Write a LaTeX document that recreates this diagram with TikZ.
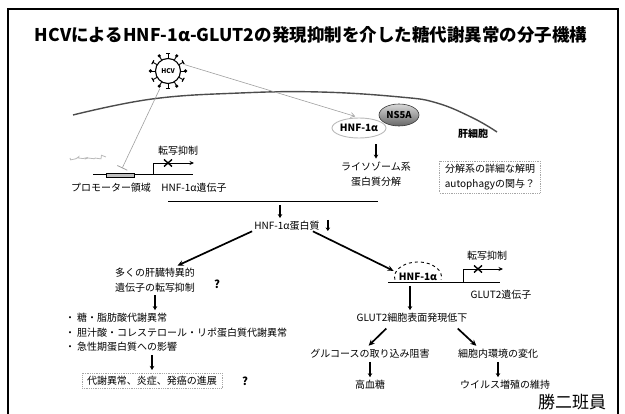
\documentclass[tikz,border=0pt]{standalone}
\usepackage{fontspec}
\setmainfont{Noto Sans CJK JP}
\usetikzlibrary{arrows.meta,shapes.geometric,calc,decorations.pathmorphing}
\begin{document}
\begin{tikzpicture}[x=1pt,y=-1pt,
  every node/.style={inner sep=0pt, font=\fontsize{10}{15}\selectfont},
  lbl/.style={align=center},
  bigarrow/.style={line width=1.7pt, -{Stealth[length=6pt,width=5.5pt]}, shorten <=1pt, shorten >=5pt},
  downarrow/.style={line width=1.5pt, -{Stealth[length=4pt,width=4.5pt]}, shorten <=3pt, shorten >=3pt},
  thinarrow/.style={line width=0.8pt, -{Stealth[length=4.5pt,width=4pt]}},
  dna/.style={line width=1pt},
  dotbox/.style={draw=gray!70, densely dotted, line width=0.8pt, inner xsep=5pt, inner ysep=3pt, align=center},
  greyline/.style={draw=gray!75, line width=0.6pt},
  boldlbl/.style={font=\fontsize{10}{12}\selectfont\bfseries}
]
\useasboundingbox (0,0) rectangle (625,414);

% page frame
\draw[line width=1.6pt] (8,416) -- (8,9) -- (618,9) -- (618,416);

\node[font=\fontsize{17.5}{20}\selectfont\bfseries] (title) at (311,35)
  {HCVによるHNF-1α-GLUT2の発現抑制を介した糖代謝異常の分子機構};

% virus particle
\node[circle, draw, line width=1.1pt, minimum size=25pt,
      font=\fontsize{6.5}{7}\selectfont\bfseries] (hcv) at (168,71) {HCV};
\foreach \a in {0,60,...,300} {
  \draw[line width=0.9pt] (hcv.center) ++(\a:12.5) -- ++(\a:4.5);
  \fill (hcv.center) ++(\a:17.5) circle (1.8);
}
\foreach \a in {30,90,...,330} {
  \draw[line width=0.9pt] (hcv.center) ++(\a:12.5) -- ++(\a:5);
  \draw[line width=1.1pt] (hcv.center) ++(\a:17.5) ++(\a+90:2.2) -- ++(\a-90:4.4);
}

% cell membrane
\draw[line width=1.4pt, black!70] plot[smooth, tension=0.7] coordinates
  {(73,115) (152,99) (240,93) (320,92) (400,97) (437,103) (473,118) (497,132)};

% HNF-1alpha gene with promoter
\draw[dna] (93,175) -- (193,175);
\node[draw, line width=0.5pt, fill=gray!50, minimum width=28pt, minimum height=4pt] (promoter) at (120,175) {};
\draw[thinarrow] (153,175) -- (153,163) -- (194,163);
\node (xl) at (168,163) {};
\draw[line width=1.4pt] (xl.center) ++(-4,-3.5) -- ++(8,7) (xl.center) ++(-4,3.5) -- ++(8,-7);
\node (trl) at (178,151) {転写抑制};
\node (promlbl) at (111,188) {プロモーター領域};
\node (hnfgene) at (194,188) {HNF-1α遺伝子};
\draw[gray!55, line width=0.8pt, decorate,
      decoration={random steps, segment length=2.5pt, amplitude=2pt}] (70,158) -- (106,157);

% inhibition of the promoter
\draw[greyline, -{Bar[width=11pt,line width=0.8pt]}, shorten <=5pt, shorten >=5pt]
  ([xshift=-6pt]hcv.south) -- (promoter.north);

% HNF-1alpha / NS5A complex
\node[ellipse, draw=gray!55, line width=0.9pt, minimum width=54pt, minimum height=20pt,
      boldlbl] (hnf) at (359,128) {HNF-1α};
\node[ellipse, draw=black!80, line width=0.6pt, top color=gray!30, bottom color=gray!80!black,
      minimum width=40pt, minimum height=22pt, font=\fontsize{9.5}{12}\selectfont\bfseries]
      (ns5a) at (399,115) {NS5A};
\draw[greyline, -{Straight Barb[length=4pt,width=5pt]}, shorten <=7pt, shorten >=4pt]
  (hcv.40) -- (hnf.north);

\node[boldlbl] (hep) at (473,134) {肝細胞};
\node[lbl] (lyso) at (376,174) {ライソゾーム系\\蛋白質分解};
\draw[downarrow, shorten <=6pt] (hnf.south -| lyso.north) -- (lyso.north);
\node[dotbox] (autobox) at (490,177) {分解系の詳細な解明\\autophagyの関与？};

% convergence onto HNF-1alpha protein
\coordinate (mL) at (168,202);
\coordinate (mR) at (378,202);
\coordinate (mM) at (280,202);
\draw[line width=1pt] (mL) -- (mR);
\node (prot) at (287,226) {HNF-1α蛋白質};
\draw[downarrow] (mM) -- (mM |- prot.north);
\draw[line width=1.4pt, -{Stealth[length=3.5pt,width=4.5pt]}]
  ([xshift=8pt,yshift=6pt]prot.east) -- ([xshift=8pt,yshift=-5pt]prot.east);

% left branch
\node[lbl] (many) at (155,280) {多くの肝臓特異的\\遺伝子の転写抑制};
\node[font=\fontsize{11}{12}\selectfont\bfseries] (q1) at (217,284) {?};
\draw[bigarrow] ([xshift=-34pt]prot.south) -- ([xshift=18pt]many.north);
\node[anchor=west] (b1) at (65,318) {・\hspace{2pt}糖・脂肪酸代謝異常};
\node[anchor=west] (b2) at (65,333) {・\hspace{2pt}胆汁酸・コレステロール・リポ蛋白質代謝異常};
\node[anchor=west] (b3) at (65,347) {・\hspace{2pt}急性期蛋白質への影響};
\draw[downarrow] (many.south) -- (many.south |- b1.north);
\node[dotbox] (prog) at (152,381) {代謝異常、炎症、発癌の進展};
\node[font=\fontsize{11}{12}\selectfont\bfseries] (q2) at (245,381) {?};
\draw[downarrow] (b3.south -| prog.north) -- (prog.north);

% right branch: GLUT2 gene
\draw[dna] (388,283) -- (500,283);
\node[boldlbl] (hnf2) at (418,277) {HNF-1α};
\draw[dashed, line width=0.9pt] (hnf2.center) ++(-23.1,2.6)
  arc[start angle=170, end angle=370, x radius=23.5, y radius=15];
\draw[bigarrow] ([xshift=25pt]prot.south) -- ([xshift=-20pt]hnf2.north);
\draw[thinarrow] (463,283) -- (463,269) -- (503,269);
\node (xr) at (478,269) {};
\draw[line width=1.4pt] (xr.center) ++(-4,-3.5) -- ++(8,7) (xr.center) ++(-4,3.5) -- ++(8,-7);
\node (trr) at (487,256) {転写抑制};
\node (glutgene) at (501,295) {GLUT2遺伝子};

\coordinate (dna2) at (410,283);
\node (glut) at (412,318) {GLUT2細胞表面発現低下};
\draw[downarrow] (dna2) -- (dna2 |- glut.north);
\node (gluc) at (370,354) {グルコースの取り込み阻害};
\node (env) at (498,354) {細胞内環境の変化};
\draw[bigarrow] ([xshift=-25pt,yshift=-5pt]glut.south) -- ([xshift=-5pt]gluc.north);
\draw[bigarrow] ([xshift=45pt,yshift=-5pt]glut.south) -- ([xshift=-18pt]env.north);
\node (hyper) at (370,385) {高血糖};
\node (vir) at (505,385) {ウイルス増殖の維持};
\draw[downarrow] (gluc.south) -- (gluc.south |- hyper.north);
\draw[downarrow] (env.south) -- (env.south |- vir.north);

\node[font=\fontsize{17}{20}\selectfont] (sign) at (572,402) {勝二班員};
\end{tikzpicture}
\end{document}
